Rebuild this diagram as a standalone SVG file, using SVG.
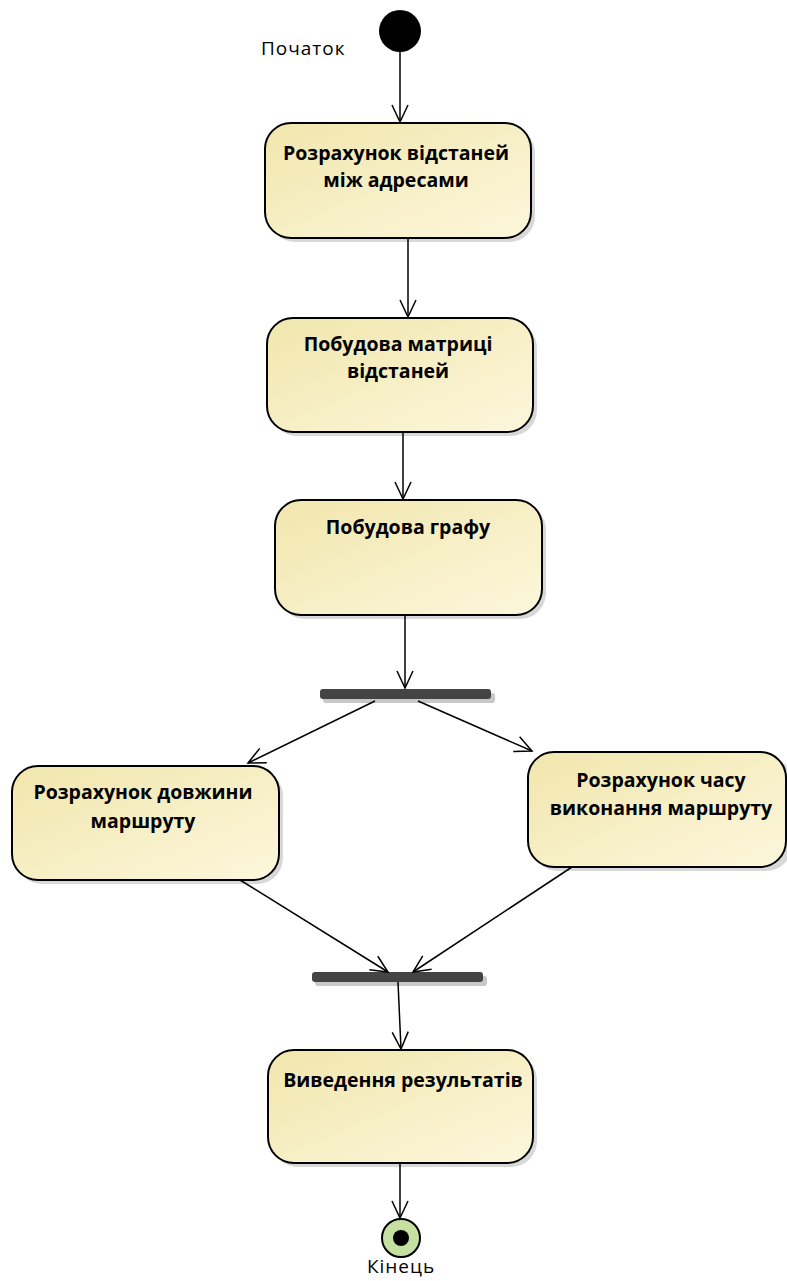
<svg xmlns="http://www.w3.org/2000/svg" width="787" height="1281" viewBox="0 0 787 1281">
<style>
.node{fill:url(#g);stroke:#000;stroke-width:2}
.sh{fill:#c8c8c8;opacity:0.7}
.t{font-family:"Open Sans","Liberation Sans",sans-serif;font-weight:bold;font-size:19.5px;fill:#000;text-anchor:middle}
.lbl{font-family:"Open Sans","Liberation Sans",sans-serif;font-size:19px;fill:#000;letter-spacing:1px}
.c{stroke:#000;stroke-width:1.5;fill:none;marker-end:url(#a)}
.bar{fill:#444}
</style>
<defs>
<linearGradient id="g" x1="0" y1="0" x2="1" y2="1">
<stop offset="0" stop-color="#f1e6ad"/>
<stop offset="1" stop-color="#fcf7dc"/>
</linearGradient>
<marker id="a" markerWidth="20" markerHeight="20" refX="18" refY="9" orient="auto" markerUnits="userSpaceOnUse">
<path d="M1,1 L18,9 L1,17" fill="none" stroke="#000" stroke-width="1.5"/>
</marker>
</defs>
<g id="start">
<circle cx="400" cy="31" r="21" fill="#000"/>
<text class="lbl" x="261" y="55">Початок</text>
</g>
<g id="n1">
<rect class="sh" x="269" y="127" width="266" height="115" rx="26"/>
<rect class="node" x="265" y="123" width="266" height="115" rx="26"/>
<text class="t" x="396" y="160">Розрахунок відстаней</text>
<text class="t" x="396" y="187">між адресами</text>
</g>
<g id="n2">
<rect class="sh" x="271" y="322" width="266" height="114" rx="26"/>
<rect class="node" x="267" y="318" width="266" height="114" rx="26"/>
<text class="t" x="398" y="351">Побудова матриці</text>
<text class="t" x="398" y="378">відстаней</text>
</g>
<g id="n3">
<rect class="sh" x="279" y="504" width="267" height="115" rx="26"/>
<rect class="node" x="275" y="500" width="267" height="115" rx="26"/>
<text class="t" x="408" y="534">Побудова графу</text>
</g>
<g id="fork">
<rect x="323" y="693" width="172" height="10" rx="3" fill="#c8c8c8"/>
<rect class="bar" x="320" y="689" width="171" height="10" rx="3"/>
</g>
<g id="n4">
<rect class="sh" x="16" y="770" width="267" height="114" rx="26"/>
<rect class="node" x="12" y="766" width="267" height="114" rx="26"/>
<text class="t" x="143" y="799">Розрахунок довжини</text>
<text class="t" x="143" y="828">маршруту</text>
</g>
<g id="n5">
<rect class="sh" x="532" y="756" width="260" height="115" rx="26"/>
<rect class="node" x="528" y="752" width="258" height="115" rx="26"/>
<text class="t" x="661" y="787">Розрахунок часу</text>
<text class="t" x="661" y="815">виконання маршруту</text>
</g>
<g id="join">
<rect x="315" y="976" width="172" height="10" rx="3" fill="#c8c8c8"/>
<rect class="bar" x="312" y="972" width="171" height="10" rx="3"/>
</g>
<g id="n6">
<rect class="sh" x="272" y="1054" width="265" height="113" rx="26"/>
<rect class="node" x="268" y="1050" width="265" height="113" rx="26"/>
<text class="t" x="403" y="1087">Виведення результатів</text>
</g>
<g id="end">
<circle cx="401" cy="1238" r="19" fill="#c5e0a0" stroke="#000" stroke-width="2"/>
<circle cx="401" cy="1238" r="8" fill="#000"/>
<text class="lbl" x="401" y="1273" text-anchor="middle">Кінець</text>
</g>
<g id="connectors">
<line class="c" x1="400" y1="52" x2="400" y2="122"/>
<line class="c" x1="408" y1="238" x2="408" y2="317"/>
<line class="c" x1="403" y1="432" x2="403" y2="499"/>
<line class="c" x1="405" y1="615" x2="405" y2="688"/>
<line class="c" x1="375" y1="701" x2="248" y2="763"/>
<line class="c" x1="418" y1="701" x2="532" y2="751"/>
<line class="c" x1="240" y1="880" x2="388" y2="972"/>
<line class="c" x1="572" y1="867" x2="413" y2="972"/>
<line class="c" x1="398" y1="982" x2="401" y2="1049"/>
<line class="c" x1="400" y1="1163" x2="400" y2="1218"/>
</g>
</svg>
